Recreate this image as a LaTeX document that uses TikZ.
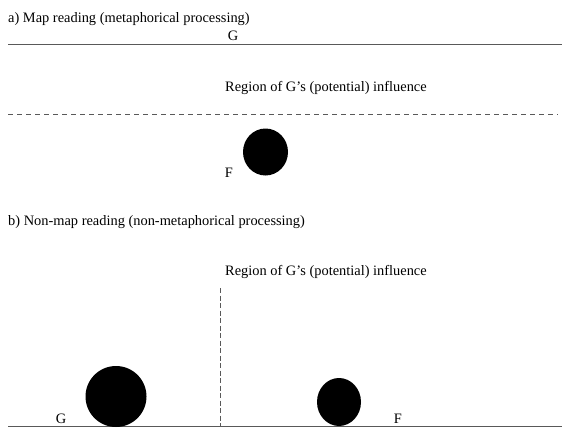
\documentclass[tikz,border=0pt]{standalone}
\usepackage{fontspec}
\setmainfont{Liberation Serif}
\usetikzlibrary{shapes.geometric}
\begin{document}
\begin{tikzpicture}[x=1pt,y=-1pt,
  lbl/.style={inner sep=0pt,font=\fontsize{14.4}{16}\selectfont},
  groundline/.style={draw=black!65,line width=1pt},
  ball/.style={fill=black,draw=none,inner sep=0pt}]
\useasboundingbox (0,0) rectangle (566,431);
% part a
\node[lbl,anchor=base west] (ta) at (8,22) {a) Map reading (metaphorical processing)};
\coordinate (a1) at (8,44);
\coordinate (a2) at (562,44);
\draw[groundline] (a1) -- (a2);
\node[lbl,anchor=base] (ga) at (233,41) {G};
\node[lbl,anchor=base west] (ra) at (225,92) {Region of G’s (potential) influence};
\coordinate (d1) at (8,114);
\coordinate (d2) at (558,114);
\draw[groundline,dash pattern=on 5pt off 4pt] (d1) -- (d2);
\node[ball,ellipse,minimum width=45pt,minimum height=47pt] (fa) at (265.5,152) {};
\node[lbl,anchor=base] (flab) at (229,177) {F};
% part b
\node[lbl,anchor=base west] (tb) at (8,225) {b) Non-map reading (non-metaphorical processing)};
\node[lbl,anchor=base west] (rb) at (225,275) {Region of G’s (potential) influence};
\coordinate (v1) at (220,288);
\coordinate (v2) at (220,426);
\draw[black!65,line width=0.8pt,dash pattern=on 5pt off 2.5pt] (v1) -- (v2);
\coordinate (b1) at (8,426);
\coordinate (b2) at (562,426);
\draw[groundline] (b1) -- (b2);
\node[ball,circle,minimum size=61pt] (gb) at (116,396.5) {};
\node[ball,ellipse,minimum width=44pt,minimum height=48pt] (fb) at (339,402) {};
\node[lbl,anchor=base] (glab) at (61,423) {G};
\node[lbl,anchor=base] (fblab) at (398,423) {F};
\end{tikzpicture}
\end{document}
